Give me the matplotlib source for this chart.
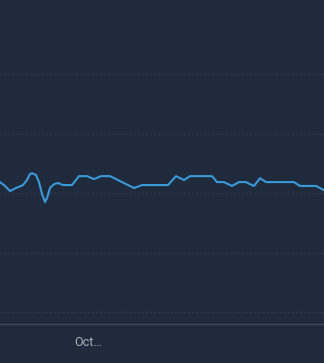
import pandas as pd
import matplotlib
matplotlib.use("Agg")
import matplotlib.pyplot as plt
import matplotlib.dates as mdates

# series (hourly offsets from start, value)
start = pd.Timestamp("2023-09-23 16:00")
hours = [0, 10, 20, 32, 46, 54, 60, 64, 72, 78, 84, 90, 94, 100, 108, 116,
         126, 144, 152, 158, 174, 188, 202, 220, 244, 268, 284, 336, 352,
         368, 380, 424, 434, 448, 464, 478, 492, 500, 508, 520, 532, 588,
         600, 632, 648]
values = [63.7, 62.4, 60.7, 61.7, 62.7, 64.4, 66.4, 66.7, 66.1, 63.7, 59.7,
          57.0, 58.3, 61.7, 63.0, 63.4, 62.7, 62.7, 64.4, 65.7, 65.7, 64.7,
          65.7, 65.7, 63.7, 61.7, 62.7, 62.7, 65.7, 64.4, 65.7, 65.7, 63.7,
          63.7, 62.4, 63.7, 63.7, 63.0, 62.4, 65.0, 63.7, 63.7, 62.4, 62.4,
          61.0]
times = [start + pd.Timedelta(hours=h) for h in hours]

grid_values = [20, 40, 60, 80, 100]
tick_dates = [pd.Timestamp("2023-10-01 00:00")]
tick_labels = ["Oct\u2026"]

bg = "#1f2b3c"
plt.rcParams['font.family'] = ['Roboto', 'DejaVu Sans']

fig = plt.figure(figsize=(3.24, 3.63), dpi=100, facecolor=bg)
ax = fig.add_axes([0, 39 / 363, 1, 324 / 363])
ax.set_facecolor(bg)

ax.plot(times, values, color="#3a9ad9", lw=1.5, solid_joinstyle='round')

for g in grid_values:
    ax.axhline(g, color="#364354", lw=1, linestyle=(0, (1, 2)), zorder=0)

ax.set_xlim(start, start + pd.Timedelta(hours=648))
ax.set_ylim(16, 124.9)

for s in ["left", "right", "top"]:
    ax.spines[s].set_visible(False)
ax.spines["bottom"].set_color("#3d4a5b")
ax.spines["bottom"].set_linewidth(1)

ax.set_yticks([])
ax.set_xticks([mdates.date2num(d) for d in tick_dates])
ax.set_xticklabels(tick_labels)
ax.tick_params(axis='x', length=0, pad=9, labelsize=9, colors="#a9b0b9")

fig.savefig("out.png", dpi=100, facecolor=bg)
